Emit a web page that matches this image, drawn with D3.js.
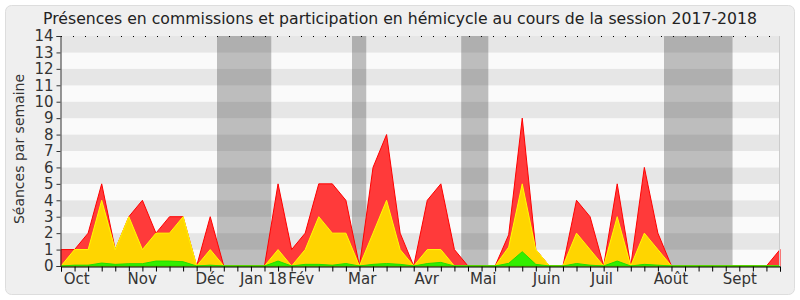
<!doctype html>
<html>
<head>
    <meta charset="utf-8">
    <style>
        body { margin: 0; background: #fff; }
        text { font-family: "DejaVu Sans", sans-serif; }
    </style>
    <script src="https://cdn.jsdelivr.net/npm/d3@7"></script>
</head>
<body>
<svg width="800" height="300"></svg>
<script>

    // valeurs, une par semaine (54 semaines)
    var semaines = d3.range(54);
    var presences = [1, 1, 2, 5, 1, 3, 4, 2, 3, 3, 0, 3, 0, 0, 0, 0, 5, 1, 2, 5,
                     5, 4, 0, 6, 8, 2, 0, 4, 5, 1, 0, 0, 0, 1.9, 9, 1, 0, 0, 4, 3,
                     0, 5, 0, 6, 2, 0, 0, 0, 0, 0, 0, 0, 0, 1];
    var participations = [0, 1, 1, 4, 1, 3, 1, 2, 2, 3, 0, 1, 0, 0, 0, 0, 1, 0, 1, 3,
                          2, 2, 0, 2, 4, 1, 0, 1, 1, 0, 0, 0, 0, 1.15, 5, 1, 0, 0, 2, 1,
                          0, 3, 0, 2, 1, 0, 0, 0, 0, 0, 0, 0, 0, 0];
    var interventions = [0, 0.05, 0.05, 0.18, 0.1, 0.14, 0.14, 0.3, 0.3, 0.26, 0, 0.05, 0, 0, 0, 0, 0.3, 0, 0.1, 0.1,
                         0.05, 0.15, 0, 0.1, 0.15, 0.1, 0, 0.15, 0.22, 0, 0, 0, 0, 0.16, 0.87, 0.1, 0, 0, 0.15, 0.05,
                         0, 0.3, 0, 0.1, 0.05, 0, 0, 0, 0, 0, 0, 0, 0, 0];

    var moisLabels = ["Oct", "Nov", "Déc", "Jan 18", "Fév", "Mar", "Avr", "Mai", "Juin", "Juil", "Août", "Sept"];
    var moisPos = [1.15, 5.99, 10.98, 14.92, 17.7, 22.2, 26.96, 31.12, 35.8, 39.87, 44.96, 50.04];
    var vacances = [[11.5, 15.5], [21.45, 22.5], [29.5, 31.5], [44.45, 49.5]];
    var yTicks = d3.range(0, 15);

    var svg = d3.select("svg");

    // cadre
    svg.append("rect")
       .attr("x", 5.5).attr("y", 5.5)
       .attr("width", 789).attr("height", 289)
       .attr("rx", 6)
       .attr("fill", "#efefef")
       .attr("stroke", "#dddddd");

    var x = d3.scaleLinear().domain([0, 53]).range([61, 780]),
        y = d3.scaleLinear().domain([0, 14]).range([266, 36]);

    // bandes horizontales
    svg.selectAll(".bande")
       .data(d3.range(0, 14))
       .enter().append("rect")
       .attr("class", "bande")
       .attr("x", x(0))
       .attr("width", x(53) - x(0))
       .attr("y", function(d) { return y(d + 1); })
       .attr("height", function(d) { return y(d) - y(d + 1); })
       .attr("fill", function(d) { return d % 2 == 1 ? "#e6e6e6" : "#fafafa"; });

    // vacances parlementaires
    svg.selectAll(".vac")
       .data(vacances)
       .enter().append("rect")
       .attr("class", "vac")
       .attr("x", function(d) { return x(d[0]); })
       .attr("width", function(d) { return x(d[1]) - x(d[0]); })
       .attr("y", y(14))
       .attr("height", y(0) - y(14))
       .attr("fill", "#333333")
       .attr("fill-opacity", 0.3);

    function aire(valeurs) {
        return d3.area()
            .x(function(d) { return x(d); })
            .y0(y(0))
            .y1(function(d) { return y(valeurs[d]); });
    }

    var series = [
        { v: presences, fill: "#ff3a3a", stroke: "#ff0000" },
        { v: participations, fill: "#ffd500", stroke: "#ffff00" },
        { v: interventions, fill: "#33ee00", stroke: "#22dd00" }
    ];

    series.forEach(function(s) {
        svg.append("path")
           .datum(semaines)
           .attr("d", aire(s.v))
           .attr("fill", s.fill)
           .attr("stroke", s.stroke)
           .attr("stroke-width", 1);
    });

    // ligne pointillée en haut
    svg.append("line")
       .attr("x1", x(0)).attr("x2", x(53))
       .attr("y1", y(14) + 0.5).attr("y2", y(14) + 0.5)
       .attr("stroke", "#000")
       .attr("stroke-dasharray", "1,11");

    svg.append("line")
       .attr("x1", x(53) - 0.5).attr("x2", x(53) - 0.5)
       .attr("y1", y(14)).attr("y2", y(0))
       .attr("stroke", "#cccccc");

    // axe Y
    var axeY = svg.append("g")
       .attr("transform", "translate(" + (x(0) - 0.5) + ",0)")
       .call(d3.axisLeft(y).tickValues(yTicks).tickSize(4).tickPadding(3));
    axeY.selectAll("text").attr("font-size", 15).attr("fill", "#333").attr("font-family", "DejaVu Sans");
    axeY.selectAll("line, path").attr("stroke", "#333");

    // axe X
    var axeX = svg.append("g")
       .attr("transform", "translate(0," + (y(0) + 0.5) + ")")
       .call(d3.axisBottom(x).tickValues(semaines).tickSize(5).tickFormat(""));
    axeX.selectAll("line, path").attr("stroke", "#000");

    svg.selectAll(".mois")
       .data(moisLabels)
       .enter().append("text")
       .attr("class", "mois")
       .attr("x", function(d, i) { return x(moisPos[i]); })
       .attr("y", 284)
       .attr("text-anchor", "middle")
       .attr("font-size", 15)
       .attr("fill", "#333")
       .text(function(d) { return d; });

    svg.append("text")
       .attr("transform", "rotate(-90)")
       .attr("x", -149)
       .attr("y", 24)
       .attr("text-anchor", "middle")
       .attr("font-size", 14)
       .attr("fill", "#333")
       .text("Séances par semaine");

    svg.append("text")
       .attr("x", 400)
       .attr("y", 24)
       .attr("text-anchor", "middle")
       .attr("font-size", 15.7)
       .attr("fill", "#222")
       .text("Présences en commissions et participation en hémicycle au cours de la session 2017-2018");

</script>
</body>
</html>
